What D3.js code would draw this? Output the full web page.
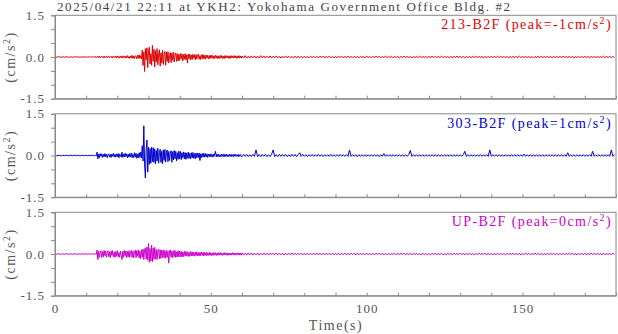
<!DOCTYPE html>
<html><head><meta charset="utf-8">
<script src="https://cdn.jsdelivr.net/npm/d3@7"></script>
<style>
html,body{margin:0;padding:0;background:#fff;}
svg{display:block;font-family:"Liberation Serif","Times New Roman",serif;}
</style></head>
<body><svg id="c" width="618" height="334"></svg>
<script>
// ---- data ----
const title = "2025/04/21 22:11 at YKH2: Yokohama Government Office Bldg. #2";
const xTicks = [0, 50, 100, 150];
const yTickLabels = [-1.5, 0, 1.5];
const channels = ["213-B2F", "303-B2F", "UP-B2F"];
const peaks = ["-1", "1", "0"];
const colors = ["#dd0000", "#0000cc", "#cc00cc"];
// time base of the three sample blocks: [start (s), step (s)]
const blockStart = [0, 12, 60];
const blockStep = [0.5, 0.25, 0.5];

// 213-B2F
const pre213 = [0.01,-0.01,0.01,0,-0.01,0.01,-0.01,0.01,0,-0.01,0.01,-0.01,0,0.01,-0.01,0.01,-0.01,0,0.01,-0.01,0.01,-0.01,0.01,-0.01];
const burst213 = [
0.01,-0.01,0.01,-0.01,0.02,-0.03,0.01,0.03,-0.02,0.03,-0.03,0.01,0.03,-0.02,0.02,-0.03,
0.03,-0.01,0.02,-0.03,0.02,0.03,-0.03,0.01,-0.02,0.03,-0.03,0.02,0.01,-0.03,0.03,-0.02,
0.04,-0.03,0.02,-0.04,0.03,-0.02,0.04,-0.04,0.02,0.03,-0.04,0.03,-0.03,0.05,-0.04,0.02,
-0.05,0.04,-0.03,0.06,-0.05,0.03,-0.06,0.05,0.02,-0.07,0.06,-0.04,0.08,-0.06,0.05,-0.07,
0.25,-0.30,0.18,-0.52,0.30,-0.10,0.33,-0.38,0.20,0.35,-0.25,0.12,-0.30,0.42,-0.15,0.28,
-0.36,0.22,-0.18,0.30,-0.28,0.10,0.26,-0.33,0.15,-0.22,0.24,-0.27,0.08,0.20,-0.30,0.18,
-0.16,0.19,-0.22,0.05,0.16,-0.20,0.14,-0.12,0.18,-0.18,0.06,0.15,-0.16,0.12,-0.14,0.10,
-0.12,0.13,-0.06,0.11,-0.14,0.09,-0.08,0.12,-0.10,0.08,-0.22,0.10,-0.06,0.11,-0.10,0.07,
-0.09,0.10,-0.04,0.08,-0.10,0.09,-0.07,0.06,0.10,-0.08,0.05,-0.09,0.08,-0.06,0.09,-0.07,
0.06,-0.08,0.07,-0.04,0.06,-0.07,0.05,-0.06,0.07,-0.03,0.06,-0.06,0.04,-0.05,0.06,-0.04,
0.05,-0.06,0.03,-0.05,0.06,-0.04,0.05,-0.05,0.03,-0.06,0.05,-0.04,0.05,-0.03,0.04,-0.05,
0.04,-0.05,0.05,-0.03,0.04,-0.04,0.05,-0.03,0.04,-0.05,0.03,-0.04,0.05,-0.04,0.03,-0.04
];
const tail213 = [
0.04,-0.04,0.05,-0.04,0.03,-0.04,0.04,-0.03,0.04,-0.04,0.03,-0.04,0.05,-0.03,0.04,-0.04,0.03,-0.03,0.04,-0.04,
0.03,-0.03,0.04,-0.03,0.03,-0.04,0.03,-0.03,0.04,-0.03,0.03,-0.03,0.02,-0.03,0.03,-0.04,0.03,-0.03,0.02,-0.03,
0.03,-0.03,0.02,-0.03,0.03,-0.02,0.03,-0.03,0.02,-0.03,0.03,-0.02,0.03,-0.03,0.02,-0.02,0.03,-0.03,0.02,-0.03,
0.02,-0.03,0.03,-0.02,0.03,-0.03,0.02,-0.02,0.03,-0.03,0.02,-0.03,0.03,-0.02,0.02,-0.03,0.03,-0.02,0.02,-0.03,
0.03,-0.02,0.02,-0.03,0.02,-0.02,0.03,-0.02,0.02,-0.03,0.02,-0.02,0.03,-0.02,0.02,-0.02,0.03,-0.03,0.02,-0.02,
0.02,-0.03,0.02,-0.02,0.03,-0.02,0.02,-0.02,0.02,-0.03,0.02,-0.02,0.02,-0.02,0.03,-0.02,0.02,-0.02,0.02,-0.03,
0.02,-0.02,0.03,-0.02,0.02,-0.02,0.02,-0.02,0.03,-0.02,0.02,-0.02,0.02,-0.03,0.02,-0.02,0.02,-0.02,0.03,-0.02,
0.02,-0.02,0.02,-0.03,0.02,-0.02,0.02,-0.02,0.02,-0.02,0.03,-0.02,0.02,-0.02,0.02,-0.03,0.02,-0.02,0.02,-0.02,
0.02,-0.02,0.02,-0.02,0.03,-0.02,0.02,-0.02,0.02,-0.02,0.02,-0.03,0.02,-0.02,0.02,-0.02,0.02,-0.02,0.03,-0.02,
0.02,-0.02,0.02,-0.02,0.02,-0.03,0.02,-0.04,0.02,-0.02,0.02,-0.02,0.03,-0.02,0.02,-0.02,0.02,-0.02,0.02,-0.03,
0.02,-0.02,0.02,-0.02,0.02,-0.02,0.03,-0.02,0.02,-0.02,0.02,-0.02,0.02,-0.03,0.02,-0.02,0.02,-0.02,0.02,-0.02,
0.02,-0.02,0.02,-0.03,0.02,-0.02,0.02,-0.02,0.02,-0.02,0.02,-0.02,0.03,-0.02,0.02,-0.02,0.02,-0.02,0.02,-0.02
];

// 303-B2F
const pre303 = [0.01,-0.01,0.01,0,-0.01,0.01,-0.01,0.01,0,-0.01,0.01,-0.01,0,0.01,-0.01,0.01,-0.01,0,0.01,-0.01,0.01,-0.01,0.01,-0.01];
const burst303 = [
0.01,-0.01,0.01,-0.01,0.01,-0.01,0.12,-0.12,0.05,-0.08,0.07,-0.03,0.06,-0.07,0.04,-0.05,
0.07,-0.04,0.05,-0.08,0.03,0.06,-0.06,0.04,-0.07,0.05,-0.03,0.08,-0.05,0.04,-0.06,0.06,
-0.04,0.07,-0.08,0.05,0.03,-0.06,0.12,-0.07,0.05,-0.05,0.08,-0.04,0.06,-0.08,0.05,-0.06,
0.07,-0.05,0.09,-0.08,0.04,-0.07,0.10,-0.06,0.08,-0.10,0.05,-0.08,0.10,-0.07,0.12,-0.09,
0.35,-0.20,1.07,-0.30,-0.81,0.20,0.56,-0.60,0.30,-0.32,0.25,-0.28,0.30,-0.22,0.28,-0.25,
0.24,-0.30,0.18,-0.20,0.26,-0.28,0.10,0.22,-0.25,0.15,-0.30,0.20,-0.18,0.22,-0.24,0.12,
0.20,-0.22,0.15,-0.18,0.08,0.17,-0.24,0.14,-0.16,0.18,-0.12,0.15,-0.20,0.10,-0.14,0.16,
-0.12,0.14,-0.15,0.10,-0.08,0.13,-0.12,0.11,-0.14,0.09,-0.10,0.12,-0.11,0.08,-0.12,0.10,
-0.09,0.11,-0.10,0.07,-0.12,0.09,-0.08,0.08,-0.07,0.09,-0.18,0.06,-0.08,0.07,-0.06,0.08,
-0.06,0.07,-0.05,0.06,-0.07,0.05,-0.04,0.06,-0.05,0.04,-0.06,0.05,-0.04,0.06,0.15,-0.05,
0.05,-0.04,0.04,-0.05,0.03,-0.04,0.05,-0.03,0.04,-0.05,0.04,-0.03,0.05,-0.04,0.03,-0.04,
0.04,-0.03,0.04,-0.04,0.03,-0.04,0.05,-0.03,0.04,-0.03,0.03,-0.04,0.04,-0.03,0.03,-0.04
];
const tail303 = [
-0.04,0.04,-0.03,0.04,-0.04,0.03,-0.04,0.04,-0.03,0.20,-0.04,0.03,-0.04,0.04,-0.03,0.04,-0.04,0.03,-0.04,0.04,
0.20,-0.04,0.03,-0.04,0.04,-0.03,0.04,-0.03,0.04,-0.04,0.03,-0.04,0.04,-0.03,0.04,-0.04,0.03,0.10,-0.03,0.04,
-0.03,0.03,-0.04,0.03,-0.03,0.04,-0.03,0.03,-0.03,0.04,-0.03,0.03,-0.04,0.03,-0.03,0.03,-0.03,0.04,-0.03,0.03,
-0.03,0.03,-0.03,0.04,-0.03,0.03,-0.03,0.03,-0.03,0.20,-0.03,0.03,-0.03,0.03,-0.04,0.03,-0.03,0.03,-0.03,0.03,
-0.03,0.03,-0.03,0.03,-0.03,0.03,-0.03,0.03,-0.04,0.03,-0.03,0.07,-0.03,0.03,-0.03,0.03,-0.03,0.03,-0.03,0.03,
-0.03,0.03,-0.03,0.03,-0.03,0.03,-0.03,0.03,0.18,-0.03,0.03,-0.03,0.03,-0.03,0.03,-0.03,0.03,-0.03,0.03,-0.03,
0.03,-0.03,0.03,-0.03,0.03,-0.03,0.03,-0.03,0.03,-0.03,0.03,-0.03,0.03,-0.03,0.03,-0.03,0.03,-0.03,0.03,-0.03,
0.03,-0.03,0.03,0.15,-0.03,0.03,-0.03,0.03,-0.03,0.03,-0.03,0.03,-0.03,0.03,-0.03,0.03,-0.03,0.03,-0.03,0.20,
-0.03,0.03,-0.03,0.03,-0.03,0.03,-0.03,0.03,-0.03,0.03,-0.03,0.03,-0.03,0.03,-0.03,0.03,-0.03,0.03,-0.03,0.03,
-0.03,0.05,-0.03,0.03,-0.03,0.03,-0.03,0.03,-0.03,0.03,-0.03,0.03,-0.03,0.03,-0.03,0.03,-0.03,0.03,-0.03,0.03,
-0.03,0.03,-0.03,0.03,-0.03,0.03,-0.03,0.03,-0.03,0.10,-0.03,0.03,-0.03,0.03,-0.03,0.03,-0.03,0.03,-0.03,0.03,
-0.03,0.03,-0.03,0.03,-0.03,0.15,-0.03,0.03,-0.03,0.03,-0.03,0.03,-0.03,0.03,-0.03,0.03,-0.03,0.20,-0.03,0.03
];

// UP-B2F
const preUP = [0.01,-0.01,0.01,0,-0.01,0.01,-0.01,0.01,0,-0.01,0.01,-0.01,0,0.01,-0.01,0.01,-0.01,0,0.01,-0.01,0.01,-0.01,0.01,-0.01];
const burstUP = [
0.01,-0.01,0.01,-0.01,0.01,-0.01,0.14,-0.20,0.10,-0.12,0.06,0.12,-0.13,0.08,-0.10,0.13,
-0.06,0.11,-0.12,0.04,0.12,-0.10,0.08,-0.13,0.11,-0.05,0.12,-0.11,0.06,-0.12,0.10,-0.08,
0.12,-0.10,0.05,-0.12,0.11,-0.07,-0.20,0.10,-0.12,0.13,-0.06,0.11,-0.13,0.09,-0.10,0.12,
-0.12,0.06,0.13,-0.12,0.10,-0.14,0.08,0.14,-0.13,0.12,-0.08,0.15,-0.14,0.10,-0.16,0.15,
-0.12,0.18,-0.20,0.15,0.22,-0.18,0.25,-0.22,0.38,-0.30,0.20,-0.25,0.32,-0.28,0.22,-0.20,
0.24,-0.18,0.16,-0.20,0.12,0.18,-0.17,0.15,-0.16,0.14,-0.12,0.15,-0.14,0.12,-0.15,0.13,
-0.12,0.10,-0.33,0.12,0.15,-0.12,0.10,-0.13,0.12,-0.10,0.13,-0.12,0.08,-0.11,0.12,-0.10,
0.11,-0.10,0.09,-0.11,0.07,-0.09,0.10,-0.08,0.09,-0.07,0.08,-0.09,0.06,-0.08,0.09,-0.07,
0.08,-0.07,0.06,-0.08,0.07,-0.06,0.08,-0.07,0.05,-0.07,0.06,-0.06,0.07,-0.05,0.06,-0.07,
0.06,-0.05,0.06,-0.06,0.04,-0.05,0.06,-0.05,0.05,-0.06,0.04,-0.05,0.05,-0.04,0.05,-0.05,
0.04,-0.05,0.05,-0.04,0.05,-0.04,0.03,-0.05,0.04,-0.04,0.05,-0.03,0.04,-0.05,0.04,-0.04,
0.04,-0.04,0.03,-0.04,0.05,-0.03,0.04,-0.04,0.03,-0.04,0.04,-0.03,0.04,-0.04,0.03,-0.04
];
const tailUP = [
0.04,-0.04,0.03,-0.04,0.04,-0.03,0.04,-0.04,0.03,-0.03,0.04,-0.04,0.03,-0.03,0.04,-0.03,0.03,-0.04,0.03,-0.03,
0.03,-0.03,0.04,-0.03,0.03,-0.03,0.03,-0.04,0.03,-0.03,0.03,-0.03,0.04,-0.03,0.03,-0.03,0.03,-0.03,0.03,-0.03,
0.03,-0.03,0.03,-0.03,0.03,-0.03,0.03,-0.03,0.04,-0.03,0.03,-0.03,0.03,-0.03,0.03,-0.03,0.03,-0.03,0.03,-0.03,
0.03,-0.03,0.03,-0.03,0.03,-0.03,0.03,-0.03,0.03,-0.03,0.03,-0.03,0.03,-0.03,0.03,-0.03,0.03,-0.03,0.03,-0.03,
0.03,-0.03,0.02,-0.03,0.03,-0.03,0.03,-0.02,0.03,-0.03,0.03,-0.03,0.02,-0.03,0.03,-0.03,0.03,-0.02,0.03,-0.03,
0.03,-0.03,0.03,-0.02,0.03,-0.03,0.02,-0.03,0.03,-0.03,0.03,-0.02,0.03,-0.03,0.02,-0.03,0.03,-0.03,0.02,-0.03,
0.02,-0.03,0.03,-0.02,0.03,-0.03,0.02,-0.02,0.03,-0.03,0.02,-0.03,0.03,-0.02,0.02,-0.03,0.03,-0.02,0.02,-0.03,
0.03,-0.02,0.02,-0.03,0.02,-0.02,0.03,-0.02,0.02,-0.03,0.02,-0.02,0.03,-0.02,0.02,-0.02,0.03,-0.03,0.02,-0.02,
0.02,-0.03,0.02,-0.02,0.03,-0.02,0.02,-0.02,0.02,-0.03,0.02,-0.02,0.02,-0.02,0.03,-0.02,0.02,-0.02,0.02,-0.03,
0.02,-0.02,0.03,-0.02,0.02,-0.02,0.02,-0.02,0.03,-0.02,0.02,-0.02,0.02,-0.03,0.02,-0.02,0.02,-0.02,0.03,-0.02,
0.02,-0.02,0.02,-0.03,0.02,-0.02,0.02,-0.02,0.02,-0.02,0.03,-0.02,0.02,-0.02,0.02,-0.03,0.02,-0.02,0.02,-0.02,
0.02,-0.02,0.02,-0.02,0.03,-0.02,0.02,-0.02,0.02,-0.02,0.02,-0.03,0.02,-0.02,0.02,-0.02,0.02,-0.02,0.03,-0.02
];
const seriesBlocks = [[pre213, burst213, tail213], [pre303, burst303, tail303], [preUP, burstUP, tailUP]];

// ---- layout ----
const svg = d3.select("#c");
const left = 55, right = 616;
const panelTops = [15.3, 113.8, 212.3];
const panelH = 83.4;
const textGray = "#555";
const axisGray = "#888";

const x = d3.scaleLinear().domain([0, 180]).range([left, right]);

svg.append("text").attr("x", 57).attr("y", 11)
  .attr("font-size", 13).attr("fill", "#444")
  .attr("textLength", 453).attr("lengthAdjust", "spacing")
  .text(title);

seriesBlocks.forEach((blocks, k) => {
  const pts = [];
  blocks.forEach((vals, b) => vals.forEach((v, i) => pts.push([blockStart[b] + i * blockStep[b], v])));

  const top = panelTops[k];
  const y = d3.scaleLinear().domain([-1.5, 1.5]).range([top + panelH, top]);
  const g = svg.append("g");

  const line = d3.line().x(d => x(d[0])).y(d => y(d[1]));
  g.append("path").datum(pts).attr("d", line)
    .attr("fill", "none").attr("stroke", colors[k]).attr("stroke-width", 1)
    .attr("stroke-linejoin", "miter");

  g.append("rect").attr("x", left).attr("y", top)
    .attr("width", right - left).attr("height", panelH)
    .attr("fill", "none").attr("stroke", axisGray).attr("stroke-width", 1);

  const ya = g.append("g").attr("transform", `translate(${left},0)`)
    .call(d3.axisLeft(y).tickValues([-1.5, -1, -0.5, 0, 0.5, 1, 1.5])
      .tickSize(4).tickPadding(6)
      .tickFormat(d => yTickLabels.includes(d) ? d3.format(".1f")(d).replace("−", "-") : ""));
  ya.select(".domain").attr("stroke", axisGray);
  ya.selectAll(".tick line").attr("stroke", axisGray);
  ya.selectAll(".tick text").attr("fill", textGray).attr("font-size", 13)
    .attr("font-family", "Liberation Serif, serif").attr("letter-spacing", 1);

  const xa = g.append("g").attr("transform", `translate(0,${top + panelH})`)
    .call(d3.axisBottom(x).tickValues(d3.range(0, 181, 10))
      .tickSizeInner(-3).tickSizeOuter(0).tickPadding(8)
      .tickFormat(d => (k === 2 && xTicks.includes(d)) ? d : ""));
  xa.select(".domain").attr("stroke", axisGray);
  xa.selectAll(".tick line").attr("stroke", axisGray);
  xa.selectAll(".tick text").attr("fill", textGray).attr("font-size", 13)
    .attr("font-family", "Liberation Serif, serif").attr("letter-spacing", 1);

  const yl = svg.append("text")
    .attr("transform", `translate(15,${top + panelH / 2}) rotate(-90)`)
    .attr("text-anchor", "middle").attr("font-size", 14).attr("fill", textGray)
    .attr("letter-spacing", 1.5);
  yl.append("tspan").text("(cm/s");
  yl.append("tspan").attr("dy", -5).attr("font-size", 10).text("2");
  yl.append("tspan").attr("dy", 5).text(")");

  const cl = svg.append("text").attr("x", 612).attr("y", top + 14)
    .attr("text-anchor", "end").attr("font-size", 14).attr("fill", colors[k])
    .attr("letter-spacing", 1.4);
  cl.append("tspan").text(`${channels[k]} (peak=${peaks[k]}cm/s`);
  cl.append("tspan").attr("dy", -5).attr("font-size", 10).text("2");
  cl.append("tspan").attr("dy", 5).text(")");
});

svg.append("text").attr("x", 336).attr("y", 330)
  .attr("text-anchor", "middle").attr("font-size", 14).attr("fill", textGray)
  .attr("letter-spacing", 1.5).text("Time(s)");
</script></body></html>
